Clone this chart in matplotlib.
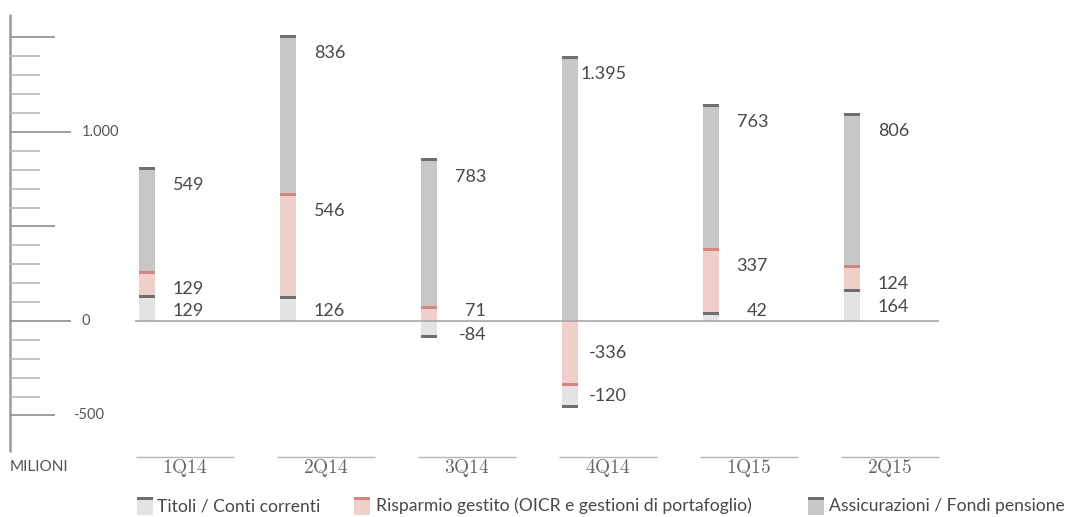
import matplotlib
matplotlib.use('Agg')
import matplotlib.pyplot as plt
from matplotlib.patches import Rectangle
import matplotlib.transforms as mtransforms

categories = ['1Q14', '2Q14', '3Q14', '4Q14', '1Q15', '2Q15']
titoli = [129, 126, -84, -120, 42, 164]
risparmio = [129, 546, 71, -336, 337, 124]
assicurazioni = [549, 836, 783, 1395, 763, 806]
series_names = ['Titoli / Conti correnti',
                'Risparmio gestito (OICR e gestioni di portafoglio)',
                'Assicurazioni / Fondi pensione']
tick_values = list(range(-500, 1501, 100))
labelled_ticks = [1000, 0, -500]
labelled_text = ['1.000', '0', '-500']
axis_title = 'MILIONI'

plt.rcParams['mathtext.fontset'] = 'cm'
FONT = ['Lato', 'DejaVu Sans']
TXT = '#484848'

W, H = 1068, 517
fig = plt.figure(figsize=(W / 100, H / 100), dpi=100)
ax = fig.add_axes([0, 0, 1, 1])
ax.set_xlim(-1.0426, 6.532)
ax.set_ylim(-1037, 1698)
ax.axis('off')

def fmt(v):
    return f"{v:,}".replace(',', '.')

series = [titoli, risparmio, assicurazioni]
fills = ['#e4e2e4', '#efcfca', '#c8c7c5']
caps = ['#6e6e6e', '#d4857f', '#6e6e6e']
bw = 0.1135
cap_h = 15
lab_dx = 0.405

for i in range(len(categories)):
    pos, neg = 0, 0
    cap_list = []
    for s in range(3):
        v = series[s][i]
        if v >= 0:
            ax.bar(i, v, bw, bottom=pos, color=fills[s], linewidth=0, zorder=2)
            top = pos + v
            cap_list.append((top - cap_h * 0.6, caps[s]))
            ax.text(i + lab_dx, max(top - 90, 55), fmt(v), ha='right', va='center',
                    fontsize=13, color=TXT, family=FONT)
            pos = top
    for s in reversed(range(3)):
        v = series[s][i]
        if v < 0:
            ax.bar(i, v, bw, bottom=neg, color=fills[s], linewidth=0, zorder=2)
            bot = neg + v
            cap_list.append((bot - cap_h * 0.4, caps[s]))
            ax.text(i + lab_dx, min(neg + v / 2, -75), fmt(v), ha='right', va='center',
                    fontsize=13, color=TXT, family=FONT)
            neg = bot
    for y0, c in cap_list:
        ax.bar(i, cap_h, bw, bottom=y0, color=c, linewidth=0, zorder=3)

# zero line
ax.plot([-0.085, 5.62], [0, 0], color='#a8a8a8', lw=1.2, zorder=4, solid_capstyle='butt')

# left axis
bt = mtransforms.blended_transform_factory(fig.transFigure, ax.transData)
ax_x = 10 / W
ax.plot([ax_x, ax_x], [-693, 1625], transform=bt, color='#9a9a9a', lw=1.8,
        solid_capstyle='butt')
for v in tick_values:
    if v in (0, 1000):
        L, c = 61, '#8f8f8f'
    elif v % 500 == 0:
        L, c = 45, '#8f8f8f'
    else:
        L, c = 30, '#b8b8b8'
    ax.plot([ax_x, ax_x + L / W], [v, v], transform=bt, color=c, lw=1.2,
            solid_capstyle='butt')
for v, t, xl in zip(labelled_ticks, labelled_text, [82, 81, 73]):
    ax.text(xl / W, v, t, transform=bt, ha='left', va='center', fontsize=10.5,
            color='#555555', family=FONT)

# category labels
for i, c in enumerate(categories):
    cx = i + 0.27
    ax.plot([cx - 0.35, cx + 0.35], [-720, -720], color='#b5b5b5', lw=1.0,
            solid_capstyle='butt')
    ax.text(cx, -778, r'$\mathrm{' + c + '}$', ha='center', va='center',
            fontsize=14, color='#666666')

fig.text(10 / W, 1 - 467 / H, axis_title, ha='left', va='center', fontsize=11,
         color='#555555', family=FONT)

# legend
sw_x = [137, 354, 808]
tx_x = [157, 376, 829]
for s in range(3):
    fig.patches.append(Rectangle((sw_x[s] / W, 1 - 515 / H), 16 / W, 18 / H,
                                 transform=fig.transFigure, color=fills[s], lw=0))
    fig.patches.append(Rectangle((sw_x[s] / W, 1 - 500 / H), 16 / W, 3 / H,
                                 transform=fig.transFigure, color=caps[s], lw=0))
    fig.text(tx_x[s] / W, 1 - 506 / H, series_names[s], ha='left', va='center',
             fontsize=12.6, color=TXT, family=FONT)

fig.savefig('out.png', dpi=100)
